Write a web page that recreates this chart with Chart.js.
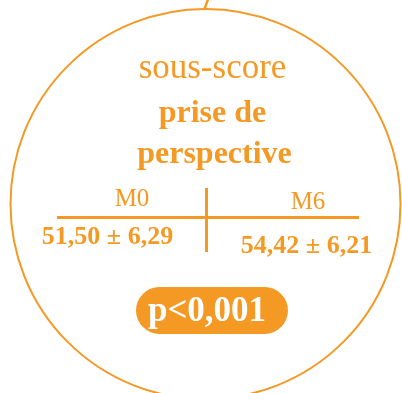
<!DOCTYPE html>
<html>
<head>
<meta charset="utf-8">
<script src="https://cdn.jsdelivr.net/npm/chart.js@4/dist/chart.umd.min.js"></script>
<style>
  html, body { margin: 0; padding: 0; background: #ffffff; }
  #wrap { width: 402px; height: 393px; position: relative; }
</style>
</head>
<body>
<div id="wrap"><canvas id="c"></canvas></div>
<script>
// ---- data ----
const categories = ['M0', 'M6'];
const means = [51.50, 54.42];
const sds = [6.29, 6.21];
const titleLines = ['sous-score', 'prise de', 'perspective'];
const pValueLabel = 'p<0,001';

const ORANGE = 'rgb(244,153,36)';
const FONT = '"Liberation Serif", "DejaVu Serif", serif';

function fmt(v) { return v.toFixed(2).replace('.', ','); }

const infographic = {
  id: 'infographic',
  afterDraw(chart) {
    const ctx = chart.ctx;
    const X = v => chart.scales.x.getPixelForValue(v);
    const Y = v => chart.scales.y.getPixelForValue(v);
    ctx.save();
    ctx.strokeStyle = ORANGE;
    ctx.fillStyle = ORANGE;
    ctx.lineCap = 'butt';

    // circle
    ctx.lineWidth = 2;
    ctx.beginPath();
    ctx.arc(X(205.5), Y(204), 195, 0, Math.PI * 2);
    ctx.stroke();
    // small tick at top
    ctx.lineWidth = 2.5;
    ctx.beginPath();
    ctx.moveTo(X(204.5), Y(9));
    ctx.lineTo(X(208.5), Y(-2));
    ctx.stroke();

    ctx.textAlign = 'center';
    ctx.textBaseline = 'alphabetic';
    // titles
    ctx.font = '35px ' + FONT;
    ctx.fillText(titleLines[0], X(212.5), Y(78));
    ctx.font = 'bold 32px ' + FONT;
    ctx.fillText(titleLines[1], X(212.5), Y(122));
    ctx.fillText(titleLines[2], X(214.5), Y(163));

    // cross lines
    ctx.lineWidth = 3;
    ctx.beginPath();
    ctx.moveTo(X(57), Y(217.5));
    ctx.lineTo(X(359), Y(217.5));
    ctx.moveTo(X(206.5), Y(188));
    ctx.lineTo(X(206.5), Y(252));
    ctx.stroke();

    // column headers and values
    const headX = [132, 308], headY = [206, 209];
    const valX = [107.5, 306.5], valY = [244, 253];
    categories.forEach((c, i) => {
      ctx.font = '25px ' + FONT;
      ctx.fillText(c, X(headX[i]), Y(headY[i]));
      ctx.font = 'bold 26px ' + FONT;
      ctx.fillText(fmt(means[i]) + ' \u00B1 ' + fmt(sds[i]), X(valX[i]), Y(valY[i]));
    });

    // p-value pill
    const px0 = X(136), px1 = X(288), py0 = Y(287), py1 = Y(334);
    const r = (py1 - py0) / 2;
    ctx.beginPath();
    ctx.moveTo(px0 + r, py0);
    ctx.lineTo(px1 - r, py0);
    ctx.arc(px1 - r, py0 + r, r, -Math.PI / 2, Math.PI / 2);
    ctx.lineTo(px0 + r, py1);
    ctx.arc(px0 + r, py0 + r, r, Math.PI / 2, Math.PI * 1.5);
    ctx.closePath();
    ctx.fill();
    ctx.fillStyle = '#ffffff';
    ctx.font = 'bold 35px ' + FONT;
    ctx.fillText(pValueLabel, X(207), Y(321));
    ctx.restore();
  }
};

new Chart(document.getElementById('c'), {
  type: 'scatter',
  data: { datasets: [{ data: [], pointRadius: 0 }] },
  options: {
    responsive: true,
    maintainAspectRatio: false,
    animation: false,
    layout: { padding: 0 },
    plugins: { legend: { display: false }, tooltip: { enabled: false } },
    scales: {
      x: { type: 'linear', min: 0, max: 402, display: false },
      y: { type: 'linear', min: 0, max: 393, reverse: true, display: false }
    }
  },
  plugins: [infographic]
});
</script>
</body>
</html>
